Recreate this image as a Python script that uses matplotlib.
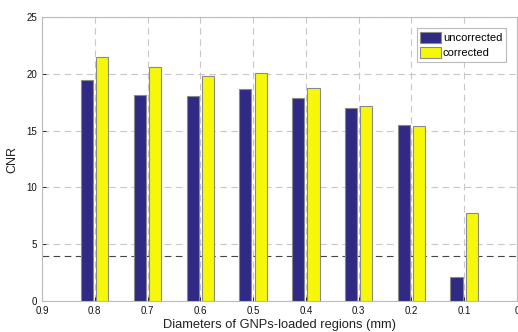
import matplotlib
import matplotlib.pyplot as plt
import numpy as np

matplotlib.use('Agg')
plt.rcParams['font.family'] = ['Liberation Sans', 'DejaVu Sans']

# CNR per GNP region diameter (mm)
diameters = [0.8, 0.7, 0.6, 0.5, 0.4, 0.3, 0.2, 0.1]
uncorrected = [19.45, 18.13, 18.07, 18.66, 17.84, 17.02, 15.46, 2.14]
corrected = [21.45, 20.57, 19.8, 20.04, 18.78, 17.19, 15.40, 7.77]
threshold = 4
xticks = [0.9, 0.8, 0.7, 0.6, 0.5, 0.4, 0.3, 0.2, 0.1, 0]
yticks = [0, 5, 10, 15, 20, 25]

fig = plt.figure(figsize=(5.18, 3.32), dpi=100)
ax = fig.add_axes([0.081, 0.093, 0.917, 0.856])

x = np.array(diameters)
w = 0.023
off = 0.0145
ax.bar(x + off, uncorrected, width=w, color='#312a84', edgecolor='#8a8a8a',
       linewidth=0.8, label='uncorrected', zorder=3)
ax.bar(x - off, corrected, width=w, color='#f7f70a', edgecolor='#8a8a8a',
       linewidth=0.8, label='corrected', zorder=3)

ax.axhline(threshold, color='#444444', linestyle=(0, (6, 4)), linewidth=0.8, zorder=2)

ax.set_xlim(0.9, 0)
ax.set_ylim(0, 25)
ax.set_xticks(xticks)
ax.set_xticklabels([f'{t:g}' for t in xticks])
ax.set_yticks(yticks)
ax.grid(True, color='#c8c8c8', linestyle=(0, (6, 4)), linewidth=0.8, zorder=0)
ax.tick_params(direction='in', length=3, labelsize=7, colors='#111111',
               width=0.6)
for s in ax.spines.values():
    s.set_color('#bbbbbb')
    s.set_linewidth(0.8)

ax.set_xlabel('Diameters of GNPs-loaded regions (mm)', fontsize=9.3, labelpad=2,
              color='#222222')
ax.set_ylabel('CNR', fontsize=9, labelpad=6, color='#222222')

leg = ax.legend(loc='upper right', bbox_to_anchor=(0.976, 0.96), fontsize=8,
                fancybox=False, handlelength=1.9, handleheight=1.25,
                handletextpad=0.15, borderpad=0.3, labelspacing=0.3,
                borderaxespad=0, edgecolor='#bbbbbb', framealpha=1)
leg.get_frame().set_linewidth(0.8)

fig.savefig('out.png', dpi=100)
